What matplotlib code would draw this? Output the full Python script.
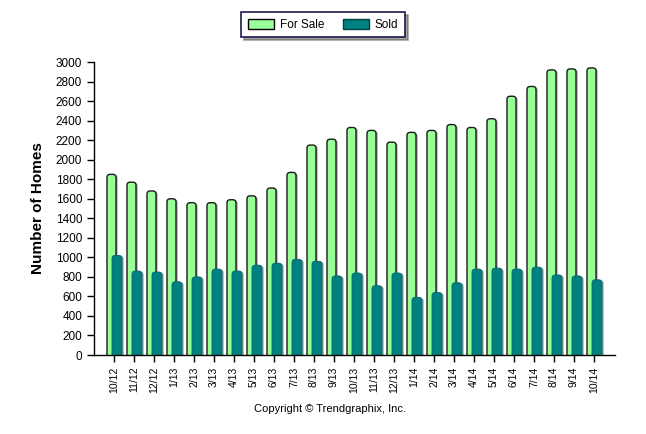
import numpy as np
import matplotlib.pyplot as plt
from matplotlib.patches import FancyBboxPatch, Patch
import matplotlib.patheffects as pe

plt.rcParams['font.family'] = ['Liberation Sans', 'DejaVu Sans']

# Data
months = ['10/12', '11/12', '12/12', '1/13', '2/13', '3/13', '4/13', '5/13', '6/13',
          '7/13', '8/13', '9/13', '10/13', '11/13', '12/13', '1/14', '2/14', '3/14',
          '4/14', '5/14', '6/14', '7/14', '8/14', '9/14', '10/14']
for_sale = [1850, 1770, 1680, 1600, 1560, 1560, 1590, 1630, 1710, 1870, 2150, 2210,
            2330, 2300, 2180, 2280, 2300, 2360, 2330, 2420, 2650, 2750, 2920, 2930, 2940]
sold = [1020, 860, 850, 750, 800, 880, 860, 920, 940, 980, 960, 810,
        840, 710, 840, 590, 640, 740, 880, 890, 880, 900, 820, 810, 770]

green = '#99FF99'
teal = '#008080'

fig = plt.figure(figsize=(6.46, 4.34), dpi=100)
ax = fig.add_axes([0.1455, 0.182, 0.8065, 0.675])

x = np.arange(len(months))
ax.set_xlim(-1, 25.05)
ax.set_ylim(0, 3000)

# aspect between y units and x units in pixels (for rounded tops)
aspect = (3000 / 293.0) / (1 / 20.0)
shadow = [pe.SimplePatchShadow(offset=(1.2, -0.4), shadow_rgbFace='#8a8a8a', alpha=0.8), pe.Normal()]


def rounded_bars(xs, heights, width, face, edge, lw):
    bars = ax.bar(xs, heights, width=width)
    for b in bars:
        bx, bw, bh = b.get_x(), b.get_width(), b.get_height()
        p = FancyBboxPatch((bx, -300), bw, bh + 300,
                           boxstyle='round,pad=0,rounding_size=0.16',
                           mutation_aspect=aspect,
                           facecolor=face, edgecolor=edge, linewidth=lw,
                           clip_on=True, zorder=2)
        p.set_path_effects(shadow)
        ax.add_patch(p)
        b.remove()


rounded_bars(x - 0.125, for_sale, 0.45, green, '#1a1a1a', 1.0)
rounded_bars(x + 0.15, sold, 0.5, teal, '#006a6a', 0.6)

ax.set_yticks(np.arange(0, 3001, 200))
ax.set_xticks(x)
ax.set_xticklabels(months, rotation=90, fontsize=7.5)
ax.tick_params(axis='y', labelsize=8.5, length=5, direction='out', width=1)
ax.tick_params(axis='x', length=5, direction='out', width=1)
for s in ['top', 'right']:
    ax.spines[s].set_visible(False)
ax.spines['left'].set_linewidth(1)
ax.spines['bottom'].set_linewidth(1)
ax.set_ylabel('Number of Homes', fontsize=11, fontweight='bold', labelpad=8)

# legend
handles = [Patch(facecolor=green, edgecolor='black', label='For Sale'),
           Patch(facecolor=teal, edgecolor='#004040', label='Sold')]
leg = fig.legend(handles=handles, loc='center', bbox_to_anchor=(0.5, 0.943), ncol=2,
                 fontsize=8.5, frameon=True, fancybox=False, shadow=True,
                 edgecolor='#1a1a4d', handlelength=2.2, handleheight=0.9,
                 handletextpad=0.5, columnspacing=1.6, borderpad=0.55)
leg.get_frame().set_linewidth(1.2)

fig.text(0.511, 0.058, 'Copyright \u00a9 Trendgraphix, Inc.', ha='center', va='center', fontsize=8)

fig.savefig('out.png', dpi=100)
